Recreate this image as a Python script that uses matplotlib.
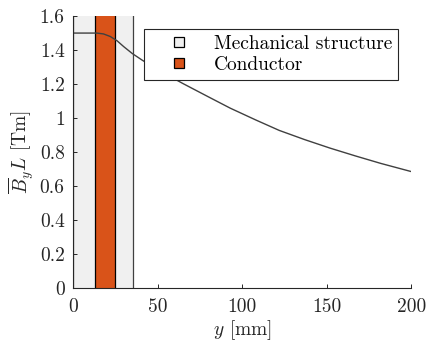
import matplotlib
matplotlib.use("Agg")
import matplotlib.pyplot as plt
from matplotlib.lines import Line2D
from matplotlib.ticker import FuncFormatter

plt.rcParams["font.family"] = "serif"
plt.rcParams["font.serif"] = ["cmr10"]
plt.rcParams["mathtext.fontset"] = "cm"
plt.rcParams["axes.formatter.use_mathtext"] = True

# field integral along y
y_mm = [0, 5, 10, 14, 18, 22, 26, 30, 35, 41, 50, 65, 80, 93, 108, 122, 137, 152, 167, 182, 200]
byl = [1.50, 1.50, 1.50, 1.50, 1.495, 1.48, 1.455, 1.42, 1.38, 1.34, 1.285, 1.203, 1.125,
       1.058, 0.989, 0.927, 0.873, 0.823, 0.777, 0.733, 0.685]

# regions (mm)
mech_span = (0, 35.5)
cond_span = (13, 25)

MECH_COLOR = "#f0f0f0"
COND_COLOR = "#d95319"
AX_COLOR = "#262626"

fig = plt.figure(figsize=(4.27, 3.42), dpi=100)
ax = fig.add_axes([0.171, 0.158, 0.792, 0.795])

# spans run past the axes so only the side edges show
ax.axvspan(*mech_span, ymin=-0.05, ymax=1.05, facecolor=MECH_COLOR, edgecolor="#404040",
           linewidth=0.9, zorder=1)
ax.axvspan(*cond_span, ymin=-0.05, ymax=1.05, facecolor=COND_COLOR, edgecolor="black",
           linewidth=0.9, zorder=2)
ax.plot(y_mm, byl, color="#404040", linewidth=1.0, zorder=3)

ax.set_xlim(0, 200)
ax.set_ylim(0, 1.6)
ax.set_xticks([0, 50, 100, 150, 200])
ax.set_yticks([0, 0.2, 0.4, 0.6, 0.8, 1.0, 1.2, 1.4, 1.6])
ax.yaxis.set_major_formatter(FuncFormatter(lambda v, p: f"{v:g}"))
ax.xaxis.set_major_formatter(FuncFormatter(lambda v, p: f"{v:g}"))

for s in ["top", "right"]:
    ax.spines[s].set_visible(False)
for s in ["left", "bottom"]:
    ax.spines[s].set_color(AX_COLOR)
    ax.spines[s].set_linewidth(0.8)
    ax.spines[s].set_zorder(4)
ax.tick_params(direction="in", length=3, width=0.7, colors=AX_COLOR, labelsize=14,
               labelcolor=AX_COLOR)
ax.tick_params(axis="x", pad=7)
ax.tick_params(axis="y", pad=6)

ax.set_xlabel(r"$y$ [mm]", fontsize=14, color=AX_COLOR, labelpad=2)
ax.set_ylabel(r"$\overline{B}_y L$ [Tm]", fontsize=14, color=AX_COLOR, labelpad=3)

handles = [
    Line2D([], [], marker="s", linestyle="none", markersize=7.5, markerfacecolor=MECH_COLOR,
           markeredgecolor="black", markeredgewidth=0.9, label="Mechanical structure"),
    Line2D([], [], marker="s", linestyle="none", markersize=7.5, markerfacecolor=COND_COLOR,
           markeredgecolor="black", markeredgewidth=0.9, label="Conductor"),
]
leg = ax.legend(handles=handles, loc="upper right", bbox_to_anchor=(0.962, 0.952),
                borderaxespad=0, fancybox=False, fontsize=14, handletextpad=0.3,
                handlelength=3.0, borderpad=0.3, labelspacing=0.15, framealpha=1)
leg.get_frame().set_edgecolor(AX_COLOR)
leg.get_frame().set_linewidth(0.8)
leg.set_zorder(5)

fig.savefig("out.png", dpi=100)
